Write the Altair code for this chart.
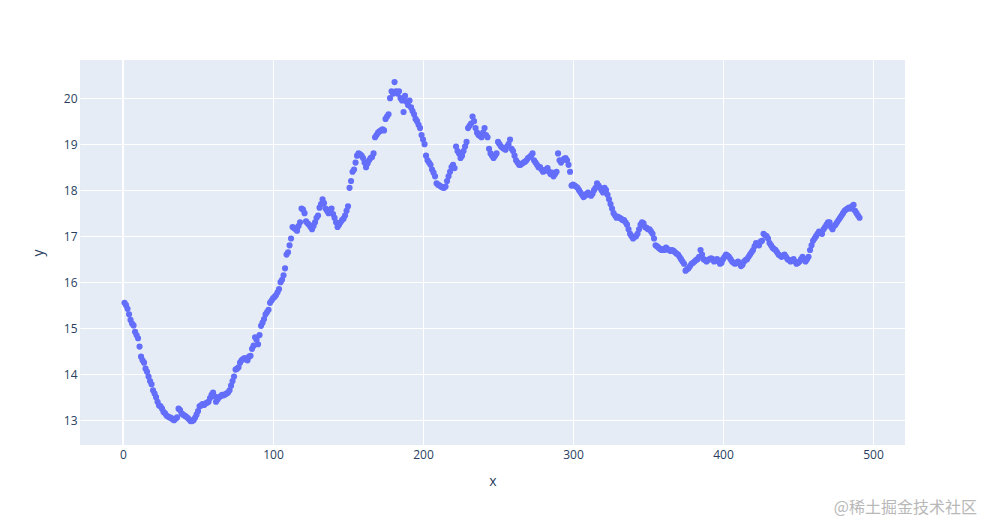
import altair as alt
import pandas as pd

y_values = [
    15.55, 15.50, 15.42, 15.30, 15.18, 15.10, 15.06, 14.92, 14.85, 14.78,
    14.60, 14.38, 14.30, 14.25, 14.12, 14.05, 13.95, 13.85, 13.78, 13.65,
    13.58, 13.50, 13.40, 13.32, 13.30, 13.25, 13.18, 13.15, 13.10, 13.08,
    13.06, 13.05, 13.02, 13.00, 13.03, 13.06, 13.25, 13.22, 13.15, 13.12,
    13.10, 13.08, 13.05, 13.02, 12.98, 12.98, 13.00, 13.05, 13.12, 13.20,
    13.30, 13.32, 13.35, 13.33, 13.36, 13.38, 13.40, 13.48, 13.55, 13.60,
    13.52, 13.40, 13.45, 13.50, 13.52, 13.55, 13.54, 13.56, 13.58, 13.60,
    13.65, 13.75, 13.85, 13.95, 14.10, 14.12, 14.15, 14.25, 14.30, 14.33,
    14.35, 14.32, 14.30, 14.38, 14.40, 14.55, 14.62, 14.80, 14.75, 14.65,
    14.85, 15.05, 15.12, 15.20, 15.30, 15.35, 15.40, 15.55, 15.60, 15.65,
    15.68, 15.72, 15.78, 15.85, 16.00, 16.05, 16.15, 16.30, 16.60, 16.65,
    16.80, 16.95, 17.20, 17.18, 17.15, 17.12, 17.22, 17.30, 17.60, 17.58,
    17.50, 17.32, 17.28, 17.25, 17.20, 17.15, 17.22, 17.30, 17.40, 17.45,
    17.62, 17.70, 17.80, 17.72, 17.60, 17.55, 17.50, 17.58, 17.60, 17.48,
    17.40, 17.30, 17.20, 17.25, 17.30, 17.35, 17.38, 17.45, 17.55, 17.65,
    18.05, 18.20, 18.40, 18.45, 18.60, 18.75, 18.80, 18.78, 18.75, 18.70,
    18.60, 18.50, 18.58, 18.65, 18.70, 18.72, 18.80, 19.15, 19.20, 19.25,
    19.28, 19.30, 19.32, 19.30, 19.55, 19.60, 19.65, 20.00, 20.15, 20.10,
    20.35, 20.15, 20.10, 20.15, 20.00, 19.95, 19.70, 20.05, 19.92, 19.85,
    19.95, 19.80, 19.72, 19.65, 19.55, 19.50, 19.42, 19.35, 19.20, 19.10,
    19.00, 18.75, 18.65, 18.60, 18.55, 18.45, 18.38, 18.30, 18.15, 18.12,
    18.10, 18.08, 18.06, 18.05, 18.08, 18.20, 18.30, 18.40, 18.50, 18.55,
    18.48, 18.95, 18.85, 18.80, 18.70, 18.75, 18.85, 18.95, 19.05, 19.35,
    19.40, 19.45, 19.60, 19.50, 19.35, 19.25, 19.20, 19.18, 19.15, 19.25,
    19.35, 19.20, 19.15, 18.90, 18.80, 18.75, 18.70, 18.75, 18.80, 19.05,
    19.00, 18.95, 18.92, 18.90, 18.88, 18.95, 19.00, 19.10, 18.90, 18.85,
    18.75, 18.65, 18.60, 18.55, 18.55, 18.58, 18.60, 18.62, 18.65, 18.70,
    18.72, 18.75, 18.80, 18.65, 18.60, 18.55, 18.50, 18.50, 18.45, 18.40,
    18.42, 18.45, 18.48, 18.40, 18.35, 18.38, 18.30, 18.35, 18.40, 18.80,
    18.65, 18.60, 18.65, 18.68, 18.70, 18.65, 18.55, 18.40, 18.10, 18.12,
    18.10, 18.08, 18.05, 18.00, 17.95, 17.90, 17.85, 17.88, 17.92, 17.95,
    17.90, 17.88, 17.92, 18.00, 18.05, 18.15, 18.10, 18.05, 18.00, 17.95,
    18.05, 18.00, 17.90, 17.80, 17.70, 17.60, 17.50, 17.45, 17.40, 17.42,
    17.40, 17.38, 17.35, 17.35, 17.30, 17.25, 17.15, 17.05, 17.00, 16.95,
    16.98, 17.00, 17.05, 17.15, 17.25, 17.30, 17.28, 17.20, 17.18, 17.15,
    17.15, 17.10, 17.05, 16.95, 16.80, 16.78, 16.75, 16.72, 16.70, 16.72,
    16.70, 16.75, 16.72, 16.70, 16.68, 16.70, 16.68, 16.65, 16.62, 16.60,
    16.55, 16.50, 16.45, 16.40, 16.25, 16.28, 16.30, 16.35, 16.40, 16.42,
    16.45, 16.48, 16.50, 16.55, 16.70, 16.60, 16.50, 16.48, 16.45, 16.48,
    16.50, 16.52, 16.50, 16.45, 16.48, 16.50, 16.45, 16.40, 16.42, 16.50,
    16.55, 16.60, 16.58, 16.55, 16.50, 16.45, 16.42, 16.40, 16.42, 16.45,
    16.40, 16.35, 16.38, 16.45, 16.48, 16.50, 16.55, 16.60, 16.65, 16.70,
    16.78, 16.85, 16.82, 16.80, 16.88, 16.90, 17.05, 17.02, 17.00, 16.95,
    16.85, 16.80, 16.75, 16.72, 16.70, 16.65, 16.60, 16.58, 16.55, 16.58,
    16.60, 16.55, 16.50, 16.48, 16.45, 16.48, 16.50, 16.45, 16.40, 16.42,
    16.45, 16.50, 16.55, 16.50, 16.45, 16.50, 16.55, 16.70, 16.80, 16.90,
    16.95, 17.00, 17.05, 17.10, 17.08, 17.05, 17.15, 17.20, 17.25, 17.30,
    17.30, 17.20, 17.15, 17.22, 17.25, 17.30, 17.35, 17.40, 17.45, 17.50,
    17.55, 17.58, 17.60, 17.62, 17.60, 17.65, 17.68, 17.55, 17.50, 17.45,
    17.40,
]
x_values = list(range(1, len(y_values) + 1))

x_ticks = [0, 100, 200, 300, 400, 500]
y_ticks = [13, 14, 15, 16, 17, 18, 19, 20]
watermark = "@稀土掘金技术社区"

df = pd.DataFrame({"x": x_values, "y": y_values})

FONT = "Open Sans"
TXT = "#2a3f5f"

x_scale = alt.Scale(domain=[-28.7, 521.3], nice=False, zero=False)
y_scale = alt.Scale(domain=[12.46, 20.83], nice=False, zero=False)

points = alt.Chart(df).mark_circle(size=38, color="#636efa", opacity=1).encode(
    x=alt.X("x:Q", scale=x_scale, title="x",
            axis=alt.Axis(values=x_ticks, grid=True, gridColor="white", gridWidth=1,
                          domain=False, ticks=False, labelPadding=4,
                          labelFont=FONT, labelFontSize=12, labelColor=TXT,
                          titleFont=FONT, titleFontSize=14, titleColor=TXT,
                          titleFontWeight="normal", titlePadding=14)),
    y=alt.Y("y:Q", scale=y_scale, title="y",
            axis=alt.Axis(values=y_ticks, grid=True, gridColor="white", gridWidth=1,
                          domain=False, ticks=False, labelPadding=3,
                          labelFont=FONT, labelFontSize=12, labelColor=TXT,
                          titleFont=FONT, titleFontSize=14, titleColor=TXT,
                          titleFontWeight="normal", titlePadding=18)),
)

zero_df = pd.DataFrame({"x0": [0]})
zeroline = alt.Chart(zero_df).mark_rule(color="white", strokeWidth=2).encode(
    x=alt.X("x0:Q", scale=x_scale)
)

wm_df = pd.DataFrame({"t": [watermark]})
wm = alt.Chart(wm_df).mark_text(
    align="right", baseline="middle", fontSize=16, color="#b8b8b8",
    font="Noto Sans CJK SC", clip=False
).encode(text="t:N", x=alt.value(897), y=alt.value(448))

chart = (
    alt.layer(zeroline, points, wm)
    .properties(
        width=825, height=385,
        autosize=alt.AutoSizeParams(type="none"),
        padding={"left": 72, "top": 52, "right": 72, "bottom": 72},
        background="white",
    )
    .configure_view(fill="#E5ECF6", stroke=None)
)

chart.save("out.html", embed_options={"renderer": "svg", "actions": False})
